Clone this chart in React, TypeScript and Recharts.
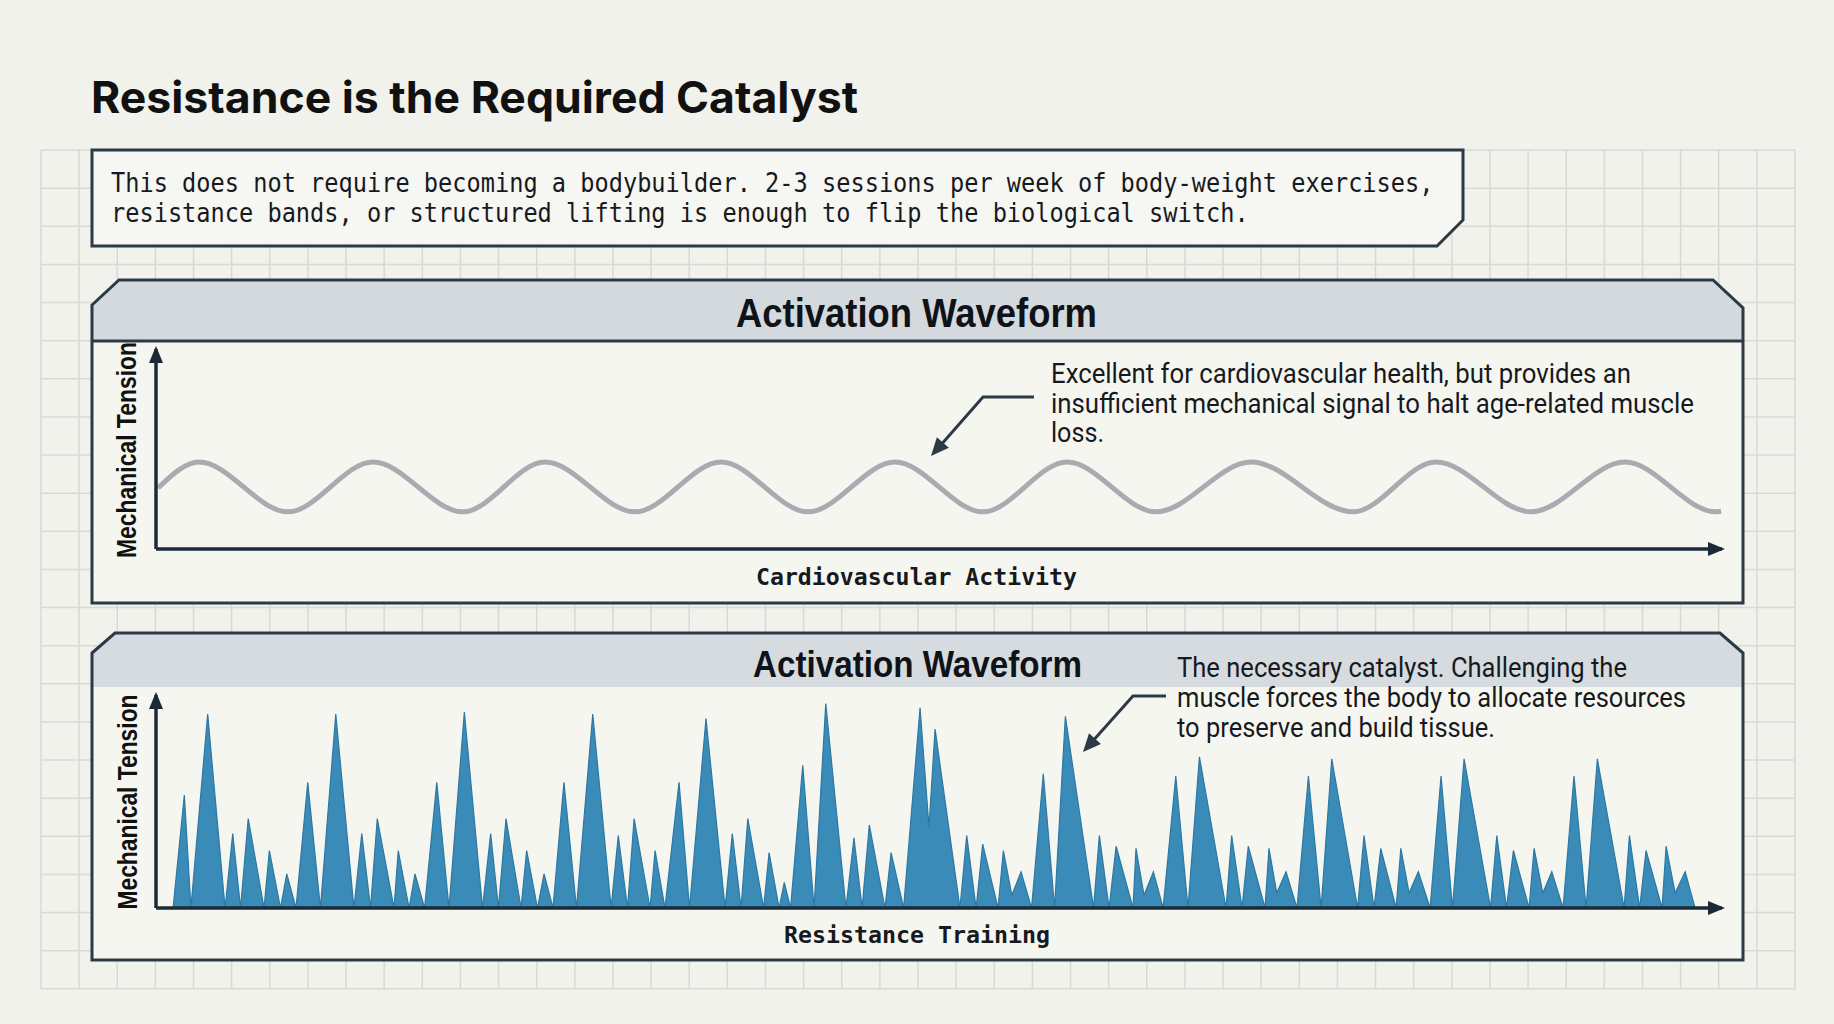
import { Area, AreaChart, Line, LineChart, ReferenceLine, XAxis, YAxis } from "recharts";

// ---- data (t = position along the time axis, 0-100; v = tension, 0-100) ----
const cardioT = [0.13, 2.75, 8.43, 13.86, 19.6, 24.84, 30.59, 36.08, 41.64, 47.19, 52.81, 58.18, 63.86, 69.93, 76.44, 81.74, 87.81, 93.81, 99.62, 99.94];
const cardioTension = [30.5, 43.5, 18.6, 43.5, 18.6, 43.5, 18.6, 43.5, 18.6, 43.5, 18.6, 43.5, 18.6, 43.5, 18.6, 43.5, 18.6, 43.5, 18.6, 18.9];

const resistanceT = [
  0, 1.09, 1.81, 2.23, 3.3, 4.41, 4.9, 5.4, 5.89, 6.9, 7.24, 7.95,
  8.35, 8.94, 9.69, 10.5, 11.48, 12.64, 13.14, 13.7, 14.13, 15.2, 15.47, 16.16,
  16.54, 17.15, 17.93, 18.71, 19.69, 20.85, 21.37, 21.87, 22.35, 23.31, 23.67, 24.36,
  24.78, 25.35, 26.05, 26.85, 27.89, 29.06, 29.52, 30.11, 30.53, 31.55, 31.87, 32.5,
  33.4, 34.07, 35.12, 36.34, 36.8, 37.36, 37.79, 38.8, 39.15, 39.79, 40.12, 40.52,
  41.3, 42.02, 42.77, 44.06, 44.57, 45.09, 45.55, 46.55, 46.94, 47.74, 48.79, 49.36,
  49.75, 51.34, 51.77, 52.37, 52.79, 53.77, 54.11, 54.65, 55.24, 55.91, 56.66, 57.38,
  58.07, 59.87, 60.24, 60.86, 61.31, 62.39, 62.58, 63.09, 63.69, 64.31, 65.12, 65.9,
  66.63, 68.33, 68.69, 69.35, 69.75, 70.82, 71.07, 71.57, 72.16, 72.86, 73.59, 74.4,
  75.08, 76.73, 77.14, 77.78, 78.21, 79.19, 79.49, 80.02, 80.61, 81.36, 82.06, 82.79,
  83.53, 85.22, 85.62, 86.24, 86.68, 87.68, 88.0, 88.56, 89.13, 89.85, 90.55, 91.32,
  92.04, 93.75, 94.09, 94.74, 95.15, 96.17, 96.43, 97.01, 97.65, 98.28, 100,
];
const resistanceTension = [
  0, 0, 53, 0, 91, 0, 35, 0, 42, 0, 27, 0,
  16, 0, 59, 0, 91, 0, 35, 0, 42, 0, 27, 0,
  16, 0, 59, 0, 92, 0, 35, 0, 42, 0, 27, 0,
  16, 0, 59, 0, 91, 0, 34, 0, 42, 0, 27, 0,
  59, 0, 89, 0, 35, 0, 42, 0, 26, 0, 12, 0,
  67, 0, 96, 0, 33, 0, 39, 0, 26, 0, 94, 38,
  84, 0, 34, 0, 30, 0, 27, 6, 17, 0, 63, 0,
  90, 0, 34, 0, 29, 0, 28, 6, 17, 0, 62, 0,
  71, 0, 34, 0, 29, 0, 28, 7, 17, 0, 62, 0,
  70, 0, 34, 0, 28, 0, 28, 7, 17, 0, 62, 0,
  70, 0, 34, 0, 27, 0, 28, 7, 17, 0, 62, 0,
  70, 0, 34, 0, 27, 0, 29, 7, 17, 0, 0,
];

const title = "Resistance is the Required Catalyst";
const introLines = [
  "This does not require becoming a bodybuilder. 2-3 sessions per week of body-weight exercises,",
  "resistance bands, or structured lifting is enough to flip the biological switch.",
];
const panelTitle = "Activation Waveform";
const yLabel = "Mechanical Tension";
const cardioLabel = "Cardiovascular Activity";
const resistanceLabel = "Resistance Training";
const cardioNote = [
  "Excellent for cardiovascular health, but provides an",
  "insufficient mechanical signal to halt age-related muscle",
  "loss.",
];
const resistanceNote = [
  "The necessary catalyst. Challenging the",
  "muscle forces the body to allocate resources",
  "to preserve and build tissue.",
];

const cardioData = cardioT.map((t, i) => ({ t, v: cardioTension[i] }));
const resistanceData = resistanceT.map((t, i) => ({ t, v: resistanceTension[i] }));

const W = 1834;
const H = 1024;
const INK = "#1c2a37";
const BORDER = "#2c3a46";
const TEXT = "#16191d";

// arrowhead polygon pointing from (fx,fy) towards tip (tx,ty)
function head(tx: number, ty: number, fx: number, fy: number, len = 17, half = 7) {
  const dx = tx - fx;
  const dy = ty - fy;
  const d = Math.hypot(dx, dy);
  const ux = dx / d;
  const uy = dy / d;
  const bx = tx - ux * len;
  const by = ty - uy * len;
  return `${tx},${ty} ${bx - uy * half},${by + ux * half} ${bx + uy * half},${by - ux * half}`;
}

function Grid() {
  const xs: number[] = [];
  const ys: number[] = [];
  for (let k = 0; k <= 46; k++) xs.push(41 + k * 38.13);
  for (let k = 0; k <= 22; k++) ys.push(150 + k * 38.13);
  return (
    <g stroke="#d9d9d4" strokeWidth={1.5}>
      {xs.map((x) => (
        <line key={"x" + x} x1={x} x2={x} y1={150} y2={989} />
      ))}
      {ys.map((y) => (
        <line key={"y" + y} x1={41} x2={1795} y1={y} y2={y} />
      ))}
    </g>
  );
}

export default function App() {
  return (
    <div style={{ position: "absolute", left: 0, top: 0, width: W, height: H, overflow: "hidden", background: "#f2f2ed" }}>
      <svg width={W} height={H} style={{ position: "absolute", left: 0, top: 0 }}>
        <Grid />
        {/* intro box */}
        <path d="M92,150 H1463 V220 L1437,246 H92 Z" fill="#f6f6f2" stroke={BORDER} strokeWidth={3} />
        {/* top panel */}
        <path d="M92,305 L119,280 H1713 L1743,308 V603 H92 Z" fill="#f6f6f1" />
        <path d="M92,305 L119,280 H1713 L1743,308 V341 H92 Z" fill="#d4d9de" />
        <line x1={92} x2={1743} y1={341} y2={341} stroke={BORDER} strokeWidth={3} />
        <path d="M92,305 L119,280 H1713 L1743,308 V603 H92 Z" fill="none" stroke={BORDER} strokeWidth={3} />
        {/* bottom panel */}
        <path d="M92,653 L115,633 H1720 L1743,653 V960 H92 Z" fill="#f6f6f1" />
        <path d="M92,653 L115,633 H1720 L1743,653 V687 H92 Z" fill="#d6dbdf" />
        <path d="M92,653 L115,633 H1720 L1743,653 V960 H92 Z" fill="none" stroke={BORDER} strokeWidth={3} />
      </svg>

      <div style={{ position: "absolute", left: 146, top: 339 }}>
        <LineChart width={1586} height={220} data={cardioData} margin={{ top: 10, right: 10, bottom: 10, left: 10 }}>
          <XAxis type="number" dataKey="t" domain={[0, 100]} hide />
          <YAxis type="number" domain={[0, 100]} hide />
          <Line type="monotone" dataKey="v" stroke="#a8acb0" strokeWidth={5} dot={false} isAnimationActive={false} />
          <ReferenceLine y={0} stroke={INK} strokeWidth={3.5} />
          <ReferenceLine x={0} stroke={INK} strokeWidth={3.5} />
        </LineChart>
      </div>

      <div style={{ position: "absolute", left: 146, top: 685 }}>
        <AreaChart width={1586} height={233} data={resistanceData} margin={{ top: 10, right: 10, bottom: 10, left: 10 }}>
          <XAxis type="number" dataKey="t" domain={[0, 100]} hide />
          <YAxis type="number" domain={[0, 100]} hide />
          <Area type="linear" dataKey="v" stroke="#2d78a3" strokeWidth={1.2} fill="#3a8bb8" fillOpacity={1} isAnimationActive={false} />
          <ReferenceLine y={0} stroke={INK} strokeWidth={3.5} />
          <ReferenceLine x={0} stroke={INK} strokeWidth={3.5} />
        </AreaChart>
      </div>

      <svg width={W} height={H} style={{ position: "absolute", left: 0, top: 0 }}>
        {/* axis arrowheads */}
        <g fill={INK}>
          <polygon points={head(156, 346, 156, 400)} />
          <polygon points={head(1725, 549, 1600, 549)} />
          <polygon points={head(156, 692, 156, 750)} />
          <polygon points={head(1725, 908, 1600, 908)} />
        </g>
        {/* annotation pointers */}
        <g stroke={BORDER} strokeWidth={3} fill="none">
          <polyline points="1034,397 983,397 940,446" />
          <polyline points="1166,696 1133,696 1091,743" />
        </g>
        <g fill={BORDER}>
          <polygon points={head(931, 456, 983, 397, 18, 8)} />
          <polygon points={head(1083, 752, 1133, 696, 18, 8)} />
        </g>

        <text x={91} y={113} fontFamily="Inter, Roboto, sans-serif" fontWeight={700} fontSize={44} fill="#111" textLength={767} lengthAdjust="spacingAndGlyphs">
          {title}
        </text>
        {introLines.map((s, i) => (
          <text key={i} x={111} y={192 + i * 30} fontFamily="'DejaVu Sans Mono', monospace" fontSize={26} fill={TEXT} textLength={s.length * 14.22} lengthAdjust="spacingAndGlyphs">
            {s}
          </text>
        ))}

        <text x={916.5} y={327} textAnchor="middle" fontFamily="'Liberation Sans', Arial, sans-serif" fontWeight={700} fontSize={41} fill="#0f1216" textLength={361} lengthAdjust="spacingAndGlyphs">
          {panelTitle}
        </text>
        <text x={917.5} y={677} textAnchor="middle" fontFamily="'Liberation Sans', Arial, sans-serif" fontWeight={700} fontSize={36} fill="#0f1216" textLength={329} lengthAdjust="spacingAndGlyphs">
          {panelTitle}
        </text>

        <text transform="translate(136,450) rotate(-90)" textAnchor="middle" fontFamily="'Liberation Sans', Arial, sans-serif" fontWeight={700} fontSize={28} fill="#111" textLength={216} lengthAdjust="spacingAndGlyphs">
          {yLabel}
        </text>
        <text transform="translate(137,802) rotate(-90)" textAnchor="middle" fontFamily="'Liberation Sans', Arial, sans-serif" fontWeight={700} fontSize={28} fill="#111" textLength={215} lengthAdjust="spacingAndGlyphs">
          {yLabel}
        </text>

        <text x={916.5} y={585} textAnchor="middle" fontFamily="'DejaVu Sans Mono', monospace" fontWeight={700} fontSize={23} fill={TEXT} textLength={321} lengthAdjust="spacingAndGlyphs">
          {cardioLabel}
        </text>
        <text x={917} y={943} textAnchor="middle" fontFamily="'DejaVu Sans Mono', monospace" fontWeight={700} fontSize={23} fill={TEXT} textLength={266} lengthAdjust="spacingAndGlyphs">
          {resistanceLabel}
        </text>

        {cardioNote.map((s, i) => (
          <text key={i} x={1051} y={383 + i * 29.5} fontFamily="Roboto, sans-serif" fontSize={27} fill={TEXT} textLength={[580, 643, 53][i]} lengthAdjust="spacingAndGlyphs">
            {s}
          </text>
        ))}
        {resistanceNote.map((s, i) => (
          <text key={i} x={1177} y={677 + i * 30} fontFamily="Roboto, sans-serif" fontSize={27} fill={TEXT} textLength={[450, 509, 318][i]} lengthAdjust="spacingAndGlyphs">
            {s}
          </text>
        ))}
      </svg>
    </div>
  );
}
